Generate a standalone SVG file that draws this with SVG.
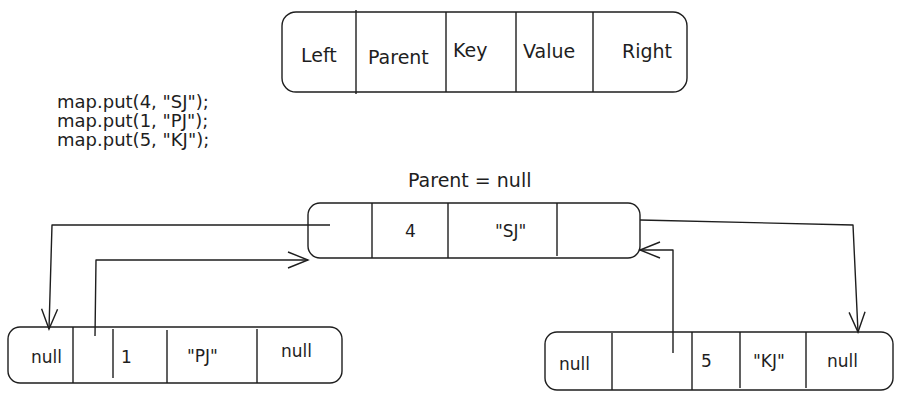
<svg xmlns="http://www.w3.org/2000/svg" width="904" height="400" viewBox="0 0 904 400">
<defs>
<style>
.box{fill:#ffffff;stroke:#1e1e1e;stroke-width:1.4}
.div{stroke:#1e1e1e;stroke-width:1.4;fill:none}
.t{font-family:"DejaVu Sans","Liberation Sans",sans-serif;fill:#1e1e1e}
.hdr{font-size:19px}
.cell{font-size:17px}
.code{font-size:18px}
.conn{fill:none;stroke:#1e1e1e;stroke-width:1.4;stroke-linejoin:round}
</style>
<marker id="ah" markerUnits="userSpaceOnUse" markerWidth="24" markerHeight="20" refX="21" refY="9" orient="auto">
<path d="M1,1 L21,9 L1,17" fill="none" stroke="#1e1e1e" stroke-width="1.4"/>
</marker>
</defs>
<rect width="904" height="400" fill="#ffffff"/>

<g id="legend">
<rect class="box" x="282" y="12" width="405" height="80" rx="14"/>
<line class="div" x1="356" y1="10" x2="356" y2="94"/>
<line class="div" x1="446" y1="12" x2="446" y2="92"/>
<line class="div" x1="516" y1="12" x2="516" y2="92"/>
<line class="div" x1="593" y1="12" x2="593" y2="92"/>
<text class="t hdr" x="301" y="62">Left</text>
<text class="t hdr" x="368" y="64">Parent</text>
<text class="t hdr" x="453" y="57">Key</text>
<text class="t hdr" x="523" y="58">Value</text>
<text class="t hdr" x="622" y="58">Right</text>
</g>

<g id="code">
<text class="t code" x="57" y="108">map.put(4, "SJ");</text>
<text class="t code" x="57" y="127">map.put(1, "PJ");</text>
<text class="t code" x="57" y="146">map.put(5, "KJ");</text>
</g>

<g id="node-4">
<text class="t hdr" x="408" y="187">Parent = null</text>
<rect class="box" x="308" y="203" width="332" height="55" rx="12"/>
<line class="div" x1="372" y1="203" x2="372" y2="258"/>
<line class="div" x1="448" y1="203" x2="448" y2="258"/>
<line class="div" x1="557" y1="203" x2="557" y2="256"/>
<text class="t cell" x="405" y="237">4</text>
<text class="t cell" x="495" y="237">"SJ"</text>
</g>

<g id="node-1">
<rect class="box" x="8" y="327" width="334" height="56" rx="12"/>
<line class="div" x1="73" y1="327" x2="73" y2="383"/>
<line class="div" x1="113" y1="329" x2="113" y2="378"/>
<line class="div" x1="167" y1="330" x2="167" y2="383"/>
<line class="div" x1="257" y1="329" x2="257" y2="383"/>
<text class="t cell" x="31" y="363">null</text>
<text class="t cell" x="121" y="363">1</text>
<text class="t cell" x="187" y="362">"PJ"</text>
<text class="t cell" x="281" y="357">null</text>
</g>

<g id="node-5">
<rect class="box" x="545" y="332" width="348" height="58" rx="12"/>
<line class="div" x1="612" y1="333" x2="612" y2="390"/>
<line class="div" x1="692" y1="332" x2="692" y2="390"/>
<line class="div" x1="740" y1="332" x2="740" y2="388"/>
<line class="div" x1="806" y1="332" x2="806" y2="388"/>
<text class="t cell" x="559" y="370">null</text>
<text class="t cell" x="701" y="367">5</text>
<text class="t cell" x="753" y="367">"KJ"</text>
<text class="t cell" x="827" y="367">null</text>
</g>

<g id="connectors">
<path class="conn" d="M330,225 L52,225 L49,329" marker-end="url(#ah)"/>
<path class="conn" d="M95,336 L96,260 L308,260" marker-end="url(#ah)"/>
<path class="conn" d="M640,220 L853,225 L858,332" marker-end="url(#ah)"/>
<path class="conn" d="M673,353 L673,250 L640,250" marker-end="url(#ah)"/>
</g>
</svg>
